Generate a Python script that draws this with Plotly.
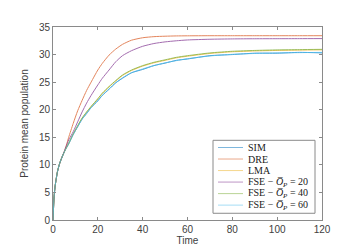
import plotly.graph_objects as go

t = [0, 0.5, 1, 2, 3, 4, 5, 6, 7, 9, 11, 13, 15, 17, 20, 22, 25, 28, 31, 35, 40, 45, 50, 55, 60, 70, 80, 90, 100, 110, 120]

dre = [0, 4.3, 6.3, 8.8, 10.3, 11.4, 12.4, 13.6, 15.0, 17.5, 19.8, 21.7, 23.5, 25.0, 27.2, 28.4, 29.9, 31.0, 31.85, 32.6, 33.05, 33.25, 33.33, 33.38, 33.4, 33.42, 33.42, 33.42, 33.42, 33.42, 33.42]
fse20 = [0, 4.3, 6.3, 8.8, 10.3, 11.4, 12.4, 13.5, 14.5, 16.0, 17.8, 19.6, 21.2, 22.6, 24.5, 25.7, 27.2, 28.7, 29.8, 30.7, 31.5, 32.0, 32.3, 32.5, 32.65, 32.78, 32.84, 32.87, 32.88, 32.89, 32.9]
fse40 = [0, 4.3, 6.3, 8.8, 10.3, 11.4, 12.3, 13.1, 13.9, 15.6, 17.1, 18.5, 19.6, 20.6, 22.0, 23.0, 24.2, 25.3, 26.3, 27.2, 28.0, 28.6, 29.05, 29.5, 29.8, 30.3, 30.6, 30.75, 30.85, 30.9, 30.95]
lma = [0, 4.3, 6.3, 8.8, 10.3, 11.4, 12.3, 13.1, 13.9, 15.55, 17.05, 18.45, 19.55, 20.55, 21.95, 22.95, 24.15, 25.2, 26.2, 27.1, 27.9, 28.5, 28.95, 29.4, 29.7, 30.2, 30.5, 30.65, 30.75, 30.8, 30.85]
fse60 = [0, 4.3, 6.3, 8.8, 10.3, 11.4, 12.3, 13.1, 13.85, 15.5, 16.95, 18.3, 19.4, 20.35, 21.7, 22.6, 23.8, 24.85, 25.8, 26.7, 27.4, 28.0, 28.5, 28.9, 29.25, 29.75, 30.05, 30.2, 30.3, 30.35, 30.4]
sim = [0, 4.2, 6.3, 8.7, 10.3, 11.3, 12.3, 13.1, 13.8, 15.5, 16.9, 18.3, 19.3, 20.4, 21.6, 22.6, 23.7, 24.9, 25.7, 26.7, 27.3, 28.0, 28.45, 28.95, 29.2, 29.8, 30.0, 30.25, 30.25, 30.4, 30.3]

names = ["SIM", "DRE", "LMA",
         "FSE − <i>O̅</i><sub><i>P</i></sub> = 20",
         "FSE − <i>O̅</i><sub><i>P</i></sub> = 40",
         "FSE − <i>O̅</i><sub><i>P</i></sub> = 60"]
series = [sim, dre, lma, fse20, fse40, fse60]
colors = ["#0072BD", "#D95319", "#EDB120", "#7E2F8E", "#77AC30", "#4DBEEE"]

fig = go.Figure()
for n, y, c in zip(names, series, colors):
    fig.add_trace(go.Scatter(x=t, y=y, mode="lines", name=n, showlegend=False,
                             line=dict(color=c, width=1, shape="spline", smoothing=0.6),
                             opacity=0.7))

# manual legend (paper coordinates derived from plot-area pixels)
L, R, T, B = 45, 314, 19, 220
def px(x): return (x - L) / (R - L)
def py(y): return (B - y) / (B - T)

fig.add_shape(type="rect", xref="paper", yref="paper",
              x0=px(205), x1=px(307), y0=py(213), y1=py(137),
              line=dict(color="#8a8a8a", width=1), fillcolor="white", layer="above")
row_y = [144.5, 156.5, 168.5, 180.5, 192.5, 204.5]
for n, c, yy in zip(names, colors, row_y):
    fig.add_shape(type="line", xref="paper", yref="paper",
                  x0=px(210), x1=px(235), y0=py(yy), y1=py(yy),
                  line=dict(color=c, width=1), opacity=0.5, layer="above")
    fig.add_annotation(xref="paper", yref="paper", x=px(238), y=py(yy),
                       xanchor="left", yanchor="middle", text=n, showarrow=False,
                       font=dict(family="Liberation Serif, Times New Roman", size=10, color="#202020"))

axis_common = dict(showline=True, linecolor="#8a8a8a", linewidth=1, mirror="ticks",
                   ticks="inside", ticklen=3, tickcolor="#8a8a8a",
                   showgrid=False, zeroline=False,
                   tickfont=dict(family="Liberation Sans, Arial", size=10, color="#404040"))

fig.update_layout(
    width=347, height=248,
    margin=dict(l=L, r=347 - R, t=T, b=248 - B),
    paper_bgcolor="white", plot_bgcolor="white",
    xaxis=dict(range=[0, 120], tickvals=[0, 20, 40, 60, 80, 100, 120],
               title=dict(text="Time", font=dict(family="Liberation Sans, Arial", size=10, color="#404040"), standoff=2),
               **axis_common),
    yaxis=dict(range=[0, 35], tickvals=[0, 5, 10, 15, 20, 25, 30, 35],
               title=dict(text="Protein mean population", font=dict(family="Liberation Sans, Arial", size=10, color="#404040"), standoff=8),
               **axis_common),
    showlegend=False,
)

fig.write_html("out.html")
